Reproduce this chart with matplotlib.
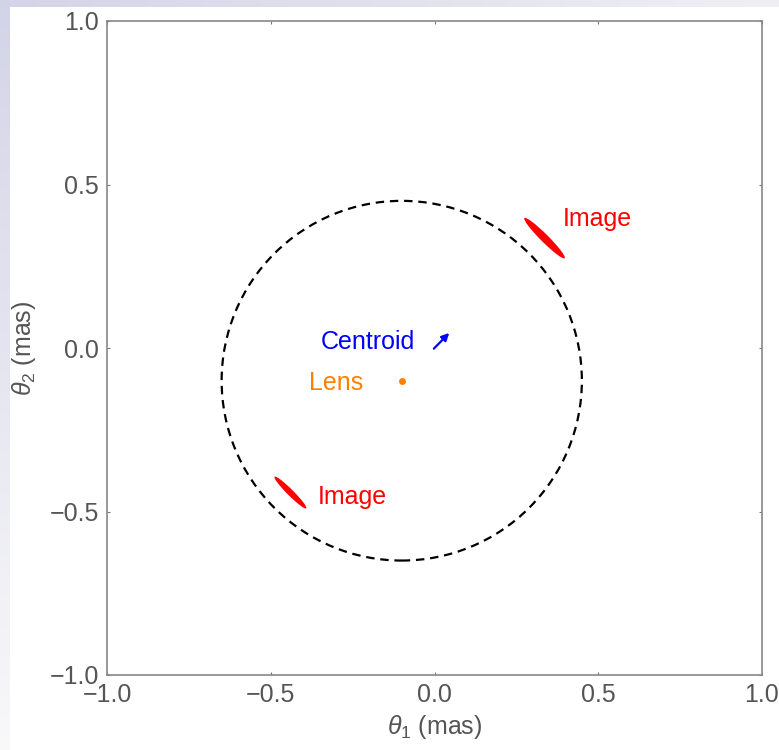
import numpy as np
import matplotlib.pyplot as plt
from matplotlib.patches import Ellipse, Circle

plt.rcParams['font.family'] = ['Liberation Sans', 'DejaVu Sans']
plt.rcParams['mathtext.fontset'] = 'custom'
plt.rcParams['mathtext.rm'] = 'Liberation Sans'
plt.rcParams['mathtext.it'] = 'Liberation Sans:italic'

# Einstein ring (dashed)
ring_center = (-0.1, -0.1)
ring_radius = 0.55

# lens position
lens_x, lens_y = -0.1, -0.1

# centroid shift arrow (tail -> head)
centroid_tail = (-0.002, -0.002)
centroid_head = (0.045, 0.046)

# images: centre x, centre y, length, width, angle (deg)
img_x = [0.336, -0.44]
img_y = [0.336, -0.442]
img_len = [0.174, 0.137]
img_wid = [0.024, 0.019]
img_ang = [-45, -45]

# labels
label_text = ['Image', 'Image', 'Centroid', 'Lens']
label_x = [0.392, -0.356, -0.06, -0.218]
label_y = [0.394, -0.456, 0.018, -0.107]
label_ha = ['left', 'left', 'right', 'right']
label_col = ['#ff0000', '#ff0000', '#0000ff', '#ff8000']

ticks = [-1.0, -0.5, 0.0, 0.5, 1.0]
tick_labels = ['\u22121.0', '\u22120.5', '0.0', '0.5', '1.0']

fig = plt.figure(figsize=(7.79, 7.5), dpi=100)

# slide-like background: lavender strips at top and left
H, W = 750, 779
bg = np.ones((H, W, 3))
top = np.linspace(0, 1, W)[None, :, None]
bg[:7, :, :] = (np.array([0.83, 0.83, 0.91]) * (1 - top) + np.array([0.94, 0.94, 0.955]) * top)
left = np.linspace(0, 1, H)[:, None, None]
bg[:, :10, :] = (np.array([0.83, 0.83, 0.91]) * (1 - left) + np.array([0.975, 0.975, 0.98]) * left)
bax = fig.add_axes([0, 0, 1, 1], zorder=-10)
bax.imshow(bg, aspect='auto', interpolation='bilinear')
bax.axis('off')

ax = fig.add_axes([107 / 779, 75 / 750, 655 / 779, 654 / 750])

ax.add_patch(Circle(ring_center, ring_radius, fill=False, ec='black', lw=1.6,
                    ls=(0, (3.8, 2.6))))

for x, y, l, w, a in zip(img_x, img_y, img_len, img_wid, img_ang):
    ax.add_patch(Ellipse((x, y), l, w, angle=a, color='#ff0000', lw=0))

ax.plot(lens_x, lens_y, 'o', color='#ff8000', ms=5, mec='none')

ax.annotate('', xy=centroid_head, xytext=centroid_tail,
            arrowprops=dict(arrowstyle='-|>', color='#0000ff', lw=1.6,
                            mutation_scale=11, shrinkA=0, shrinkB=0))

for t, x, y, ha, c in zip(label_text, label_x, label_y, label_ha, label_col):
    ax.text(x, y, t, ha=ha, va='center', color=c, fontsize=18)

ax.set_xlim(-1, 1)
ax.set_ylim(-1, 1)
ax.set_xticks(ticks)
ax.set_xticklabels(tick_labels)
ax.set_yticks(ticks)
ax.set_yticklabels(tick_labels)
ax.tick_params(direction='in', length=2.5, width=0.8, color='#777777',
               labelsize=18, labelcolor='#555555', top=True, right=True, pad=6)
for s in ax.spines.values():
    s.set_color('#888888')
    s.set_linewidth(1.2)

ax.set_xlabel(r'$\theta_1$ (mas)', fontsize=18, color='#555555', labelpad=4)
ax.set_ylabel(r'$\theta_2$ (mas)', fontsize=18, color='#555555', labelpad=8)

plt.savefig('out.png', dpi=100)
plt.close()
